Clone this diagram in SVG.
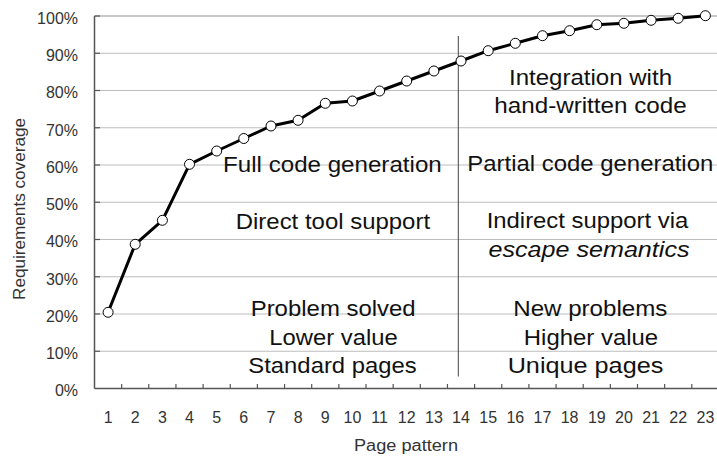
<svg xmlns="http://www.w3.org/2000/svg" width="717" height="456" viewBox="0 0 717 456">
  <style>
    .grid { stroke: #bdbdbd; stroke-width: 1; fill: none; }
    .axis { stroke: #555; stroke-width: 1.5; fill: none; }
    .tick { stroke: #555; stroke-width: 1.2; }
    .tl { font-family: "Liberation Sans", Arial, sans-serif; font-size: 16px; fill: #333; }
    .yl { text-anchor: end; }
    .xl { text-anchor: middle; }
    .note { font-family: "Liberation Sans", Arial, sans-serif; font-size: 22px; fill: #111; text-anchor: middle; }
    .series { stroke: #000; stroke-width: 3; fill: none; stroke-linejoin: round; }
    .pt { fill: #fff; stroke: #000; stroke-width: 1; }
  </style>

  <rect width="717" height="456" fill="#fff"/>

  <!-- horizontal gridlines every 10% -->
  <g id="gridlines">
    <line class="grid" x1="94.5" y1="351.25" x2="717" y2="351.25"/>
    <line class="grid" x1="94.5" y1="314" x2="717" y2="314"/>
    <line class="grid" x1="94.5" y1="276.75" x2="717" y2="276.75"/>
    <line class="grid" x1="94.5" y1="239.5" x2="717" y2="239.5"/>
    <line class="grid" x1="94.5" y1="202.25" x2="717" y2="202.25"/>
    <line class="grid" x1="94.5" y1="165" x2="717" y2="165"/>
    <line class="grid" x1="94.5" y1="127.75" x2="717" y2="127.75"/>
    <line class="grid" x1="94.5" y1="90.5" x2="717" y2="90.5"/>
    <line class="grid" x1="94.5" y1="53.25" x2="717" y2="53.25"/>
    <line x1="94.5" y1="16" x2="717" y2="16" stroke="#777" stroke-width="0.8"/>
  </g>

  <!-- axes and tick marks -->
  <g id="axes">
    <line class="axis" x1="94.5" y1="16" x2="94.5" y2="388.5"/>
    <line class="axis" x1="94.5" y1="388.5" x2="717" y2="388.5"/>
    <g class="tick">
      <line x1="94.5" y1="351.25" x2="100" y2="351.25"/>
      <line x1="94.5" y1="314" x2="100" y2="314"/>
      <line x1="94.5" y1="276.75" x2="100" y2="276.75"/>
      <line x1="94.5" y1="239.5" x2="100" y2="239.5"/>
      <line x1="94.5" y1="202.25" x2="100" y2="202.25"/>
      <line x1="94.5" y1="165" x2="100" y2="165"/>
      <line x1="94.5" y1="127.75" x2="100" y2="127.75"/>
      <line x1="94.5" y1="90.5" x2="100" y2="90.5"/>
      <line x1="94.5" y1="53.25" x2="100" y2="53.25"/>
      <line x1="94.5" y1="16" x2="100" y2="16"/>
      <line x1="121.65" y1="384" x2="121.65" y2="388.5"/>
      <line x1="148.8" y1="384" x2="148.8" y2="388.5"/>
      <line x1="175.95" y1="384" x2="175.95" y2="388.5"/>
      <line x1="203.1" y1="384" x2="203.1" y2="388.5"/>
      <line x1="230.25" y1="384" x2="230.25" y2="388.5"/>
      <line x1="257.4" y1="384" x2="257.4" y2="388.5"/>
      <line x1="284.55" y1="384" x2="284.55" y2="388.5"/>
      <line x1="311.7" y1="384" x2="311.7" y2="388.5"/>
      <line x1="338.85" y1="384" x2="338.85" y2="388.5"/>
      <line x1="366" y1="384" x2="366" y2="388.5"/>
      <line x1="393.15" y1="384" x2="393.15" y2="388.5"/>
      <line x1="420.3" y1="384" x2="420.3" y2="388.5"/>
      <line x1="447.45" y1="384" x2="447.45" y2="388.5"/>
      <line x1="474.6" y1="384" x2="474.6" y2="388.5"/>
      <line x1="501.75" y1="384" x2="501.75" y2="388.5"/>
      <line x1="528.9" y1="384" x2="528.9" y2="388.5"/>
      <line x1="556.05" y1="384" x2="556.05" y2="388.5"/>
      <line x1="583.2" y1="384" x2="583.2" y2="388.5"/>
      <line x1="610.35" y1="384" x2="610.35" y2="388.5"/>
      <line x1="637.5" y1="384" x2="637.5" y2="388.5"/>
      <line x1="664.65" y1="384" x2="664.65" y2="388.5"/>
      <line x1="691.8" y1="384" x2="691.8" y2="388.5"/>
    </g>
  </g>

  <!-- axis labels -->
  <g id="y-labels" class="tl yl">
    <text x="78" y="23.7">100%</text>
    <text x="78" y="61">90%</text>
    <text x="78" y="98.2">80%</text>
    <text x="78" y="135.5">70%</text>
    <text x="78" y="172.7">60%</text>
    <text x="78" y="210">50%</text>
    <text x="78" y="247.2">40%</text>
    <text x="78" y="284.5">30%</text>
    <text x="78" y="321.7">20%</text>
    <text x="78" y="359">10%</text>
    <text x="78" y="396.2">0%</text>
  </g>
  <g id="x-labels" class="tl xl">
    <text x="108.1" y="422.5">1</text>
    <text x="135.2" y="422.5">2</text>
    <text x="162.4" y="422.5">3</text>
    <text x="189.5" y="422.5">4</text>
    <text x="216.7" y="422.5">5</text>
    <text x="243.8" y="422.5">6</text>
    <text x="271" y="422.5">7</text>
    <text x="298.1" y="422.5">8</text>
    <text x="325.3" y="422.5">9</text>
    <text x="352.4" y="422.5">10</text>
    <text x="379.6" y="422.5">11</text>
    <text x="406.7" y="422.5">12</text>
    <text x="433.9" y="422.5">13</text>
    <text x="461" y="422.5">14</text>
    <text x="488.2" y="422.5">15</text>
    <text x="515.3" y="422.5">16</text>
    <text x="542.5" y="422.5">17</text>
    <text x="569.6" y="422.5">18</text>
    <text x="596.8" y="422.5">19</text>
    <text x="623.9" y="422.5">20</text>
    <text x="651.1" y="422.5">21</text>
    <text x="678.2" y="422.5">22</text>
    <text x="705.4" y="422.5">23</text>
  </g>
  <g id="axis-titles" class="tl xl">
    <text x="406" y="451" textLength="104" lengthAdjust="spacingAndGlyphs">Page pattern</text>
    <text transform="translate(24.5 209) rotate(-90)" x="0" y="0" textLength="182" lengthAdjust="spacingAndGlyphs">Requirements coverage</text>
  </g>

  <!-- divider between standard and unique pages -->
  <g id="divider">
    <line x1="458.3" y1="36" x2="458.3" y2="376.5" stroke="#444" stroke-width="1"/>
  </g>

  <!-- cumulative coverage curve -->
  <g id="series">
    <polyline class="series" points="108.1,312.3 135.2,244.3 162.4,220.3 189.5,164.3 216.7,151 243.8,138.5 271,126 298.1,120.3 325.3,103.3 352.4,101 379.6,91 406.7,81 433.9,71 461,61 488.2,50.7 515.3,43.3 542.5,35.7 569.6,30.7 596.8,24.7 623.9,23.3 651.1,20.3 678.2,18.3 705.4,15.7"/>
    <g class="pt">
      <circle cx="108.1" cy="312.3" r="5"/>
      <circle cx="135.2" cy="244.3" r="5"/>
      <circle cx="162.4" cy="220.3" r="5"/>
      <circle cx="189.5" cy="164.3" r="5"/>
      <circle cx="216.7" cy="151" r="5"/>
      <circle cx="243.8" cy="138.5" r="5"/>
      <circle cx="271" cy="126" r="5"/>
      <circle cx="298.1" cy="120.3" r="5"/>
      <circle cx="325.3" cy="103.3" r="5"/>
      <circle cx="352.4" cy="101" r="5"/>
      <circle cx="379.6" cy="91" r="5"/>
      <circle cx="406.7" cy="81" r="5"/>
      <circle cx="433.9" cy="71" r="5"/>
      <circle cx="461" cy="61" r="5"/>
      <circle cx="488.2" cy="50.7" r="5"/>
      <circle cx="515.3" cy="43.3" r="5"/>
      <circle cx="542.5" cy="35.7" r="5"/>
      <circle cx="569.6" cy="30.7" r="5"/>
      <circle cx="596.8" cy="24.7" r="5"/>
      <circle cx="623.9" cy="23.3" r="5"/>
      <circle cx="651.1" cy="20.3" r="5"/>
      <circle cx="678.2" cy="18.3" r="5"/>
      <circle cx="705.4" cy="15.7" r="5"/>
    </g>
  </g>

  <!-- annotations, left half -->
  <g id="left-notes" class="note">
    <text x="332.4" y="171.5" textLength="218.7" lengthAdjust="spacingAndGlyphs">Full code generation</text>
    <text x="332.9" y="229" textLength="194.3" lengthAdjust="spacingAndGlyphs">Direct tool support</text>
    <text x="333.2" y="316" textLength="165" lengthAdjust="spacingAndGlyphs">Problem solved</text>
    <text x="333.5" y="345" textLength="128.3" lengthAdjust="spacingAndGlyphs">Lower value</text>
    <text x="332.5" y="373.3" textLength="168.3" lengthAdjust="spacingAndGlyphs">Standard pages</text>
  </g>

  <!-- annotations, right half -->
  <g id="right-notes" class="note">
    <text x="590.5" y="85" textLength="163" lengthAdjust="spacingAndGlyphs">Integration with</text>
    <text x="590.5" y="113.3" textLength="192.4" lengthAdjust="spacingAndGlyphs">hand-written code</text>
    <text x="590.3" y="170.5" textLength="246" lengthAdjust="spacingAndGlyphs">Partial code generation</text>
    <text x="587.5" y="228.3" textLength="201.7" lengthAdjust="spacingAndGlyphs">Indirect support via</text>
    <text x="589" y="256.6" font-style="italic" textLength="201" lengthAdjust="spacingAndGlyphs">escape semantics</text>
    <text x="590.3" y="316" textLength="154" lengthAdjust="spacingAndGlyphs">New problems</text>
    <text x="591" y="345" textLength="134.3" lengthAdjust="spacingAndGlyphs">Higher value</text>
    <text x="585.5" y="373.3" textLength="155.7" lengthAdjust="spacingAndGlyphs">Unique pages</text>
  </g>
</svg>
